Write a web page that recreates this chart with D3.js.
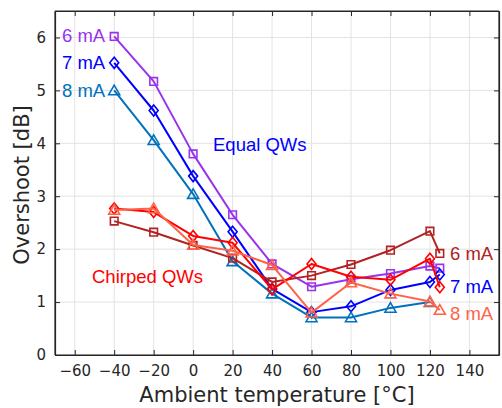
<!DOCTYPE html>
<html><head><meta charset="utf-8">
<script src="https://cdn.jsdelivr.net/npm/d3@7"></script>
<style>body{margin:0;background:#fff}svg{display:block}</style>
</head><body>
<svg id="c" width="502" height="408"></svg>
<script>
const temps = [-40,-20,0,20,40,60,80,100,120,125];
const equal6 = [6.02,5.17,3.80,2.65,1.72,1.29,1.43,1.54,1.68,1.64];
const equal7 = [5.52,4.62,3.38,2.33,1.25,0.81,0.92,1.23,1.38,1.52];
const equal8 = [5.00,4.06,3.04,1.77,1.16,0.71,0.71,0.89,1.00,null];
const chirp6 = [2.53,2.32,2.07,1.83,1.38,1.50,1.71,1.98,2.34,1.92];
const chirp7 = [2.77,2.70,2.25,2.12,1.24,1.72,1.48,1.42,1.82,1.28];
const chirp8 = [2.74,2.77,2.08,1.97,1.70,0.80,1.37,1.16,1.01,0.85];
const xTicks = [-60,-40,-20,0,20,40,60,80,100,120,140];
const yTicks = [0,1,2,3,4,5,6];

const series = [
  {v: equal6, color: "#9933ee", marker: "square"},
  {v: equal7, color: "#0000ff", marker: "diamond"},
  {v: equal8, color: "#0072bd", marker: "triangle"},
  {v: chirp6, color: "#b22222", marker: "square"},
  {v: chirp7, color: "#ff0000", marker: "diamond"},
  {v: chirp8, color: "#ff6347", marker: "triangle"}
];

const L = 55, T = 11, R = 499, B = 355;
const svg = d3.select("#c");
const x = d3.scaleLinear().domain([-70,155]).range([L,R]);
const y = d3.scaleLinear().domain([0,6.5]).range([B,T]);
const axisFont = "'DejaVu Sans', sans-serif";
const annFont = "'Liberation Sans', Arial, sans-serif";

// grid
const g = svg.append("g");
g.selectAll(".gx").data(xTicks).join("line")
  .attr("x1", d=>x(d)).attr("x2", d=>x(d)).attr("y1", T).attr("y2", B)
  .attr("stroke", "#e3e3e3").attr("stroke-width", 1);
g.selectAll(".gy").data(yTicks).join("line")
  .attr("y1", d=>y(d)).attr("y2", d=>y(d)).attr("x1", L).attr("x2", R)
  .attr("stroke", "#e3e3e3").attr("stroke-width", 1);

// axes
const axCol = "#262626";
const xb = svg.append("g").attr("transform", `translate(0,${B})`)
  .call(d3.axisBottom(x).tickValues(xTicks).tickSizeInner(-5).tickSizeOuter(0).tickPadding(10));
const xt = svg.append("g").attr("transform", `translate(0,${T})`)
  .call(d3.axisTop(x).tickValues(xTicks).tickSizeInner(-5).tickSizeOuter(0).tickFormat(""));
const yl = svg.append("g").attr("transform", `translate(${L},0)`)
  .call(d3.axisLeft(y).tickValues(yTicks).tickSizeInner(-5).tickSizeOuter(0).tickPadding(9).tickFormat(d3.format("d")));
const yr = svg.append("g").attr("transform", `translate(${R},0)`)
  .call(d3.axisRight(y).tickValues(yTicks).tickSizeInner(-5).tickSizeOuter(0).tickFormat(""));
[xb,xt,yl,yr].forEach(a=>{
  a.select(".domain").attr("stroke", axCol).attr("stroke-width", 1.2);
  a.selectAll(".tick line").attr("stroke", axCol).attr("stroke-width", 1);
  a.selectAll("text").attr("fill", axCol).attr("font-family", axisFont).attr("font-size", 15);
});
// full x domain line
svg.append("line").attr("x1",L).attr("x2",R).attr("y1",B).attr("y2",B).attr("stroke",axCol).attr("stroke-width",1.2);
svg.append("line").attr("x1",L).attr("x2",R).attr("y1",T).attr("y2",T).attr("stroke",axCol).attr("stroke-width",1.2);
svg.append("line").attr("x1",L).attr("x2",L).attr("y1",T).attr("y2",B).attr("stroke",axCol).attr("stroke-width",1.2);
svg.append("line").attr("x1",R).attr("x2",R).attr("y1",T).attr("y2",B).attr("stroke",axCol).attr("stroke-width",1.2);

// labels
svg.append("text").attr("x", (L+R)/2).attr("y", 402).attr("text-anchor","middle")
  .attr("font-family", axisFont).attr("font-size", 21).attr("fill", axCol)
  .text("Ambient temperature [°C]");
svg.append("text").attr("transform", `translate(29,${(T+B)/2+2}) rotate(-90)`).attr("text-anchor","middle")
  .attr("font-family", axisFont).attr("font-size", 21).attr("fill", axCol)
  .text("Overshoot [dB]");

// marker paths
function markerPath(type){
  const p = d3.path();
  if(type==="square"){ const s=3.8; p.rect(-s,-s,2*s,2*s); }
  else if(type==="diamond"){ const w=4.5,h=5.5; p.moveTo(0,-h); p.lineTo(w,0); p.lineTo(0,h); p.lineTo(-w,0); p.closePath(); }
  else { const w=5.5,h=4.8; p.moveTo(0,-h-0.5); p.lineTo(w,h-0.5); p.lineTo(-w,h-0.5); p.closePath(); }
  return p.toString();
}

const line = d3.line().defined(d=>d.v!=null).x(d=>x(d.t)).y(d=>y(d.v));
series.forEach(s=>{
  const pts = temps.map((t,i)=>({t, v:s.v[i]}));
  svg.append("path").datum(pts).attr("d", line).attr("fill","none")
    .attr("stroke", s.color).attr("stroke-width", 2).attr("stroke-linejoin","round");
  svg.selectAll(null).data(pts.filter(d=>d.v!=null)).join("path")
    .attr("d", markerPath(s.marker))
    .attr("transform", d=>`translate(${x(d.t)},${y(d.v)})`)
    .attr("fill","none").attr("stroke", s.color).attr("stroke-width", 1.6);
});

// annotations
const ann = [
  {t:"6 mA", x:62, y:42, c:"#9933ee"},
  {t:"7 mA", x:62, y:69, c:"#0000ff"},
  {t:"8 mA", x:62, y:97, c:"#0072bd"},
  {t:"Equal QWs", x:213, y:151, c:"#0000ff"},
  {t:"Chirped QWs", x:92, y:283, c:"#ff0000"},
  {t:"6 mA", x:450, y:260, c:"#b22222"},
  {t:"7 mA", x:450, y:293, c:"#0000ff"},
  {t:"8 mA", x:450, y:320, c:"#ff6347"}
];
svg.selectAll(null).data(ann).join("text")
  .attr("x", d=>d.x).attr("y", d=>d.y).attr("fill", d=>d.c)
  .attr("font-family", annFont).attr("font-size", 18.5).text(d=>d.t);
</script>
</body></html>
